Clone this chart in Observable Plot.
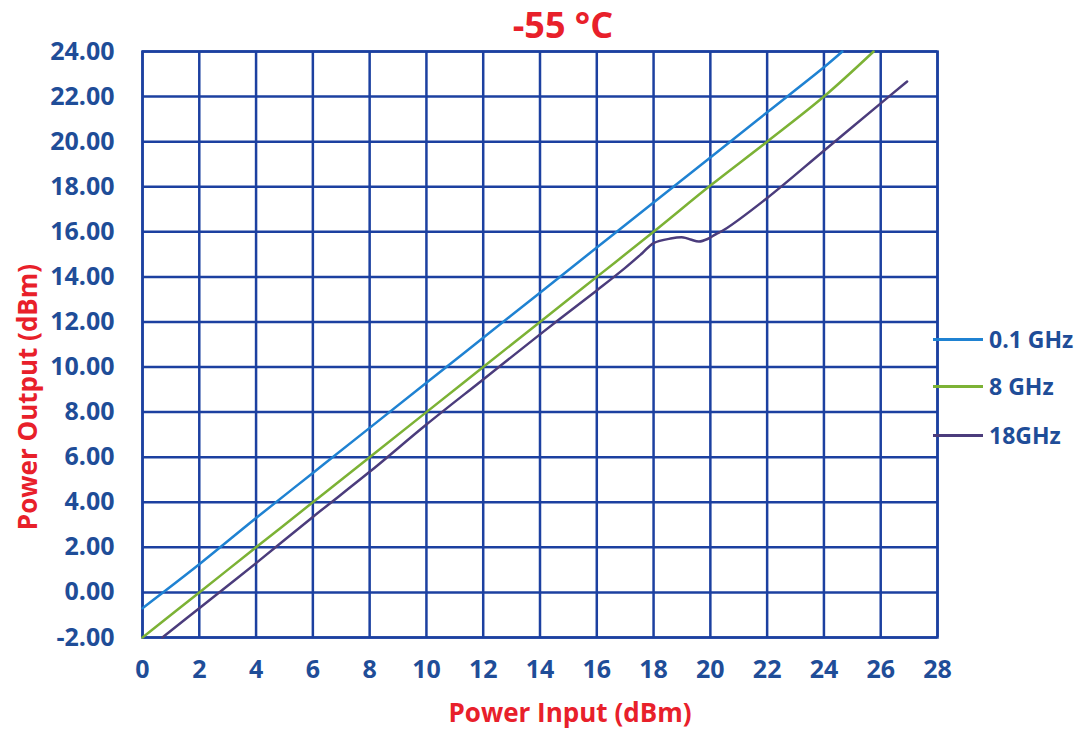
<!DOCTYPE html>
<html>
<head>
<meta charset="utf-8">
<script src="https://cdn.jsdelivr.net/npm/d3@7"></script>
<script src="https://cdn.jsdelivr.net/npm/@observablehq/plot@0.6"></script>
<style>
  html, body { margin: 0; padding: 0; background: #fff; }
  #wrap { position: relative; width: 1088px; height: 729px; font-family: "Open Sans", Lato, sans-serif; }
  #wrap svg { position: absolute; left: 0; top: 0; }
  .title { position: absolute; left: 0; width: 1126px; top: 0px; text-align: center; color: #e8202a; font-weight: 700; font-size: 36px; line-height: 50px; }
  .xlabel { position: absolute; left: 0; width: 1140px; top: 695px; text-align: center; color: #e8202a; font-weight: 700; font-size: 26px; line-height: 34px; }
  .ylabel { position: absolute; left: 27px; top: 397px; transform: translate(-50%, -50%) rotate(-90deg); white-space: nowrap; color: #e8202a; font-weight: 700; font-size: 26px; line-height: 36px; }
  .leg { position: absolute; left: 933px; height: 32px; display: flex; align-items: center; }
  .leg span.sw { display: inline-block; width: 50px; height: 3px; margin-right: 6px; }
  .leg span.tx { color: #1f4d98; font-weight: 700; font-size: 23px; line-height: 32px; }
</style>
</head>
<body>
<div id="wrap"></div>
<script>
// Series names and colours
const seriesNames = ["0.1 GHz", "8 GHz", "18GHz"];
const seriesColors = ["#1f82d2", "#7cb235", "#4b3c7c"];

// 0.1 GHz
const x01 = [0, 2, 4, 6, 8, 10, 12, 14, 16, 18, 20, 22, 24, 24.65];
const y01 = [-0.7, 1.25, 3.3, 5.3, 7.3, 9.3, 11.3, 13.3, 15.3, 17.3, 19.3, 21.3, 23.3, 24];

// 8 GHz
const x8 = [0, 2, 4, 6, 8, 10, 12, 14, 16, 18, 20, 22, 24, 25.75];
const y8 = [-2, 0, 2, 4, 6, 8, 10, 12, 14, 16, 18.05, 20, 22, 24];

// 18 GHz
const x18 = [0.7, 2, 4, 6, 8, 10, 12, 14, 16, 17, 17.6, 18, 18.6, 19.05, 19.3, 19.6, 19.9, 20.2, 20.5, 22, 24, 26, 26.93];
const y18 = [-2, -0.7, 1.3, 3.35, 5.35, 7.45, 9.45, 11.45, 13.4, 14.4, 15.05, 15.5, 15.7, 15.75, 15.66, 15.57, 15.68, 15.9, 16.1, 17.5, 19.6, 21.7, 22.67];

// Axis ticks
const xTicks = [0, 2, 4, 6, 8, 10, 12, 14, 16, 18, 20, 22, 24, 26, 28];
const yTicks = [-2, 0, 2, 4, 6, 8, 10, 12, 14, 16, 18, 20, 22, 24];

const data = [];
[[x01, y01], [x8, y8], [x18, y18]].forEach(([xs, ys], i) => {
  xs.forEach((x, j) => data.push({series: seriesNames[i], x, y: ys[j]}));
});

const gridColor = "#1c40a0";
const tickColor = "#1f4d98";

const chart = Plot.plot({
  width: 1088,
  height: 729,
  marginLeft: 142,
  marginRight: 151,
  marginTop: 51,
  marginBottom: 92,
  style: {fontFamily: "'Open Sans', Lato, sans-serif", background: "transparent"},
  x: {domain: [0, 28], ticks: xTicks},
  y: {domain: [-2, 24], ticks: yTicks},
  color: {domain: seriesNames, range: seriesColors},
  marks: [
    Plot.gridX(xTicks, {stroke: gridColor, strokeOpacity: 1, strokeWidth: 2.5}),
    Plot.gridY(yTicks, {stroke: gridColor, strokeOpacity: 1, strokeWidth: 2.5}),
    Plot.frame({stroke: gridColor, strokeWidth: 2.5}),
    Plot.line(data, {x: "x", y: "y", z: "series", stroke: "series", strokeWidth: 2.5, curve: "catmull-rom"}),
    Plot.axisX(xTicks, {tickSize: 0, tickPadding: 23, fontSize: 25, fontWeight: 700, fill: tickColor, label: null, tickFormat: d => String(d)}),
    Plot.axisY(yTicks, {tickSize: 0, tickPadding: 28, fontSize: 25, fontWeight: 700, fill: tickColor, label: null, tickFormat: d => d.toFixed(2)})
  ]
});

const wrap = document.getElementById("wrap");
wrap.appendChild(chart);

const title = document.createElement("div");
title.className = "title";
title.textContent = "-55 °C";
wrap.appendChild(title);

const xl = document.createElement("div");
xl.className = "xlabel";
xl.textContent = "Power Input (dBm)";
wrap.appendChild(xl);

const yl = document.createElement("div");
yl.className = "ylabel";
yl.textContent = "Power Output (dBm)";
wrap.appendChild(yl);

const legTops = [323, 370, 419];
seriesNames.forEach((name, i) => {
  const row = document.createElement("div");
  row.className = "leg";
  row.style.top = legTops[i] + "px";
  const sw = document.createElement("span");
  sw.className = "sw";
  sw.style.background = seriesColors[i];
  const tx = document.createElement("span");
  tx.className = "tx";
  tx.textContent = name;
  row.appendChild(sw);
  row.appendChild(tx);
  wrap.appendChild(row);
});
</script>
</body>
</html>
